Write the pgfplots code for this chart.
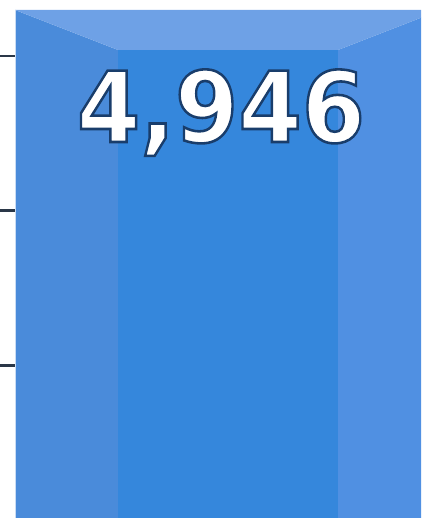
\documentclass[border=0pt]{standalone}
\usepackage{pgfplots}
\pgfplotsset{compat=1.18}
\usepackage{fontspec}
\newfontfamily\numfontglow{DejaVu Sans Bold}[FakeBold=2.6]
\definecolor{gridc}{HTML}{2A3748}
\definecolor{leftf}{HTML}{4A8BDA}
\definecolor{midf}{HTML}{3587DC}
\definecolor{rightf}{HTML}{5090E2}
\definecolor{topf}{HTML}{6EA1E6}
\begin{document}
\begin{tikzpicture}
\useasboundingbox (0,0) rectangle (421pt,518pt);
\begin{axis}[
  at={(0,0)}, anchor=south west,
  scale only axis, width=421pt, height=518pt,
  xmin=0, xmax=421, ymin=18, ymax=5043,
  hide axis, clip=true,
]
% grid stubs (visible left of the bar)
\addplot[gridc, line width=2.6pt] coordinates {(0,1500) (20,1500)};
\addplot[gridc, line width=2.6pt] coordinates {(0,3000) (20,3000)};
\addplot[gridc, line width=2.6pt] coordinates {(0,4500) (20,4500)};
% bar 4,946 drawn as bevelled column
\addplot[fill=leftf, draw=none] coordinates {(15,0) (15,4946) (118,4558) (118,0)} -- cycle;
\addplot[fill=midf, draw=none] coordinates {(118,0) (118,4558) (338,4558) (338,0)} -- cycle;
\addplot[fill=rightf, draw=none] coordinates {(338,0) (338,4558) (441,4946) (441,0)} -- cycle;
\addplot[fill=topf, draw=none] coordinates {(15,4946) (441,4946) (338,4558) (118,4558)} -- cycle;
\addplot[white!70!leftf, line width=1pt] coordinates {(15.5,0) (15.5,4946)};
\coordinate (lab) at (axis cs:221,3950);
\end{axis}
% label: white fill with dark outline (single text)
\node[inner sep=0, xscale=0.93] at (lab)
  {\numfontglow\fontsize{98}{98}\selectfont\color{white}\special{pdf:code 0.10 0.24 0.42 RG}4,946};
\end{tikzpicture}
\end{document}
